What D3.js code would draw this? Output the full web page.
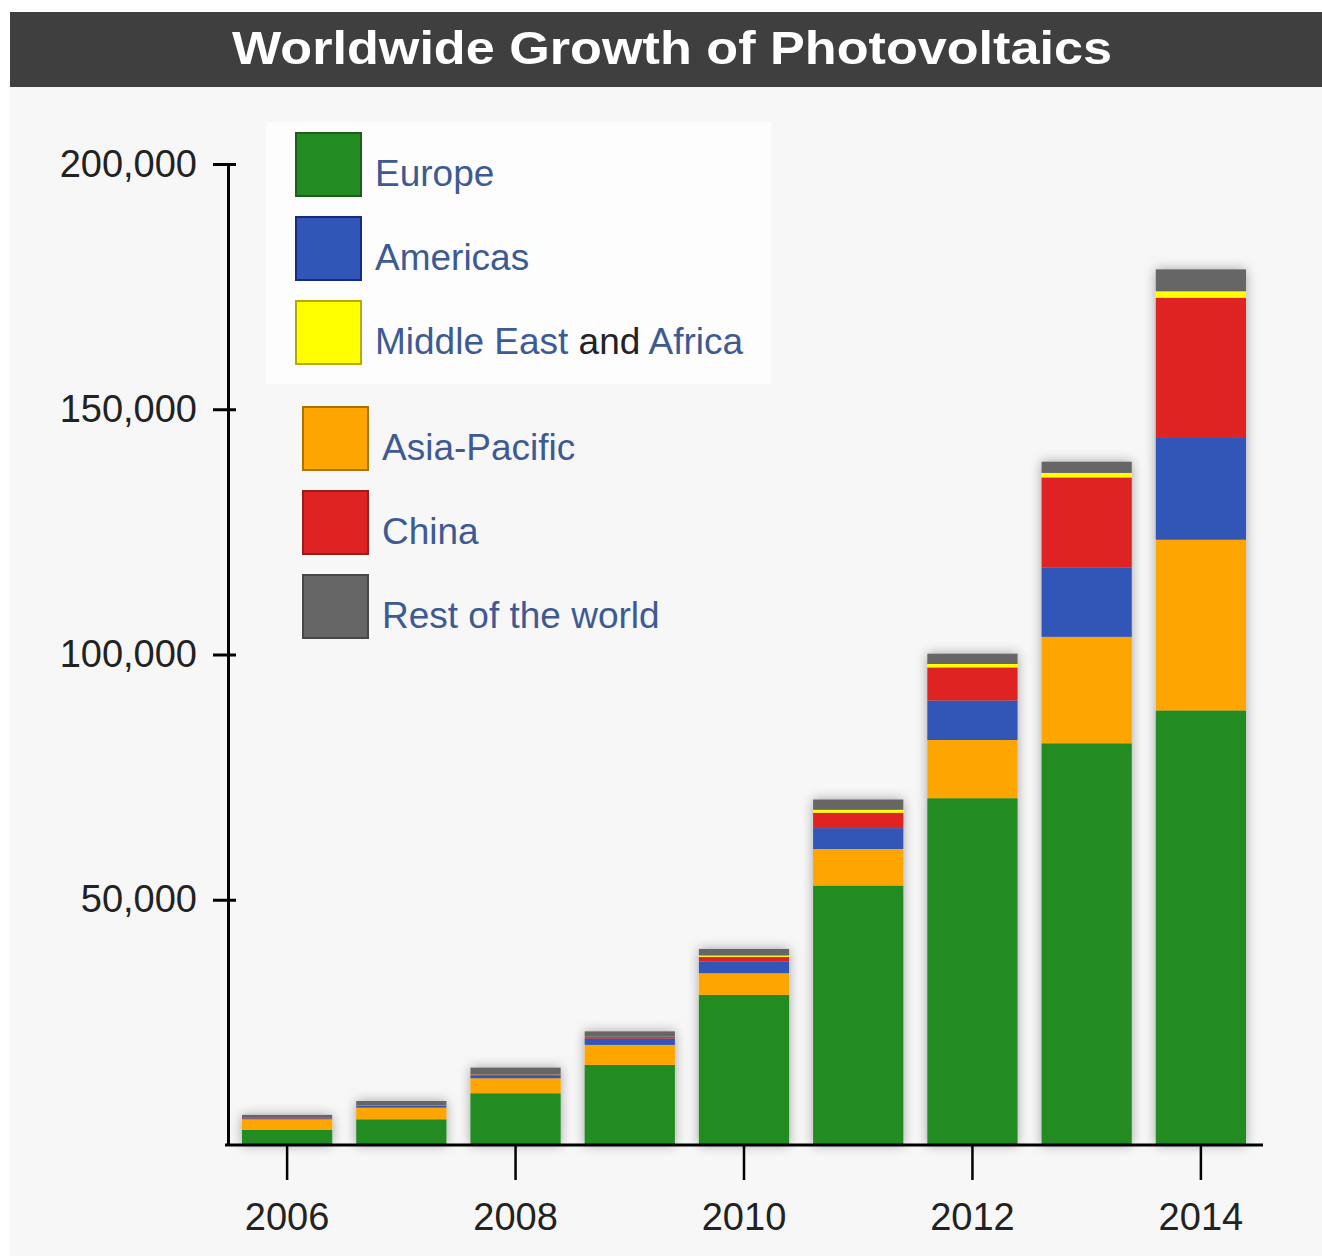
<!DOCTYPE html>
<html>
<head>
<meta charset="utf-8">
<script src="https://cdn.jsdelivr.net/npm/d3@7"></script>
<style>
  body { margin: 0; background: #fff; }
  svg { display: block; font-family: "Liberation Sans", Arial, sans-serif; }
</style>
</head>
<body>
<svg width="1322" height="1256"></svg>
<script>
// installed PV capacity (MW)
var years = [2006, 2007, 2008, 2009, 2010, 2011, 2012, 2013, 2014];
var europe      = [3060, 5240, 10550, 16330, 30600, 52900, 70700, 81900, 88600];
var asiaPacific = [2180, 2380, 3060, 4080, 4430, 7450, 11860, 21700, 34800];
var americas    = [200, 350, 600, 1300, 2390, 4250, 8060, 14100, 20750];
var china       = [80, 100, 140, 300, 920, 3140, 6750, 18400, 28600];
var middleEast  = [10, 20, 30, 60, 300, 600, 700, 920, 1300];
var restOfWorld = [620, 890, 1400, 1100, 1330, 2100, 2100, 2290, 4470];

var yTicks = [50000, 100000, 150000, 200000];
var xTicks = [2006, 2008, 2010, 2012, 2014];

// stacking order, bottom to top
var keys   = ["Europe", "Asia-Pacific", "Americas", "China", "Middle East and Africa", "Rest of the world"];
var series = [europe, asiaPacific, americas, china, middleEast, restOfWorld];
var colors = ["#228b22", "#ffa500", "#3057b8", "#df2222", "#ffff00", "#666666"];
var borders = ["#1d5e1d", "#a87400", "#1a2a80", "#9a1c1c", "#b8a800", "#474747"];

var rows = years.map(function (y, i) {
  var r = { year: y };
  keys.forEach(function (k, j) { r[k] = series[j][i]; });
  return r;
});

var svg = d3.select("svg");

// panel + title bar
svg.append("rect").attr("x", 10).attr("y", 87).attr("width", 1312).attr("height", 1169)
  .attr("fill", "#f7f7f7");
svg.append("rect").attr("x", 10).attr("y", 12).attr("width", 1312).attr("height", 75)
  .attr("fill", "#3f3f3f");
svg.append("text")
  .attr("x", 672).attr("y", 64)
  .attr("text-anchor", "middle")
  .attr("fill", "#fff")
  .attr("font-size", 47)
  .attr("font-weight", "bold")
  .attr("textLength", 880)
  .attr("lengthAdjust", "spacingAndGlyphs")
  .text("Worldwide Growth of Photovoltaics");

var x = d3.scaleBand()
  .domain(years)
  .range([230, 1258])
  .paddingInner(0.21)
  .paddingOuter(0.105);

var y = d3.scaleLinear()
  .domain([0, 200000])
  .range([1145, 164]);

// soft shadow round the bars
var defs = svg.append("defs");
defs.append("filter").attr("id", "shadow")
  .attr("x", "-20%").attr("y", "-20%").attr("width", "140%").attr("height", "140%")
  .append("feDropShadow")
    .attr("dx", 0).attr("dy", 0)
    .attr("stdDeviation", 6)
    .attr("flood-color", "#000")
    .attr("flood-opacity", 0.35);

var stacked = d3.stack().keys(keys)(rows);

var gBars = svg.append("g").attr("filter", "url(#shadow)");
gBars.selectAll(".layer")
  .data(stacked)
  .enter().append("g")
    .attr("class", "layer")
    .attr("fill", function (d, i) { return colors[i]; })
  .selectAll("rect")
  .data(function (d) { return d; })
  .enter().append("rect")
    .attr("x", function (d) { return x(d.data.year); })
    .attr("y", function (d) { return y(d[1]); })
    .attr("width", x.bandwidth())
    .attr("height", function (d) { return y(d[0]) - y(d[1]); });

// y axis
var gy = svg.append("g")
  .attr("transform", "translate(228,0)")
  .call(d3.axisLeft(y).tickValues(yTicks).tickFormat(d3.format(",")).tickSizeOuter(0).tickSizeInner(15).tickPadding(16));
gy.select(".domain").attr("stroke", "#000").attr("stroke-width", 3);
gy.selectAll(".tick line").attr("x1", 8).attr("x2", -15).attr("stroke", "#000").attr("stroke-width", 3);
gy.selectAll(".tick text").attr("font-size", 38).attr("fill", "#222")
  .attr("font-family", "'Liberation Sans', Arial, sans-serif");

// x axis
var gx = svg.append("g")
  .attr("transform", "translate(0,1145)")
  .call(d3.axisBottom(x).tickValues(xTicks).tickSizeOuter(0).tickSizeInner(35).tickPadding(23));
gx.select(".domain").attr("d", "M225,0H1263").attr("stroke", "#000").attr("stroke-width", 3);
gx.selectAll(".tick line").attr("stroke", "#000").attr("stroke-width", 2.5);
gx.selectAll(".tick text").attr("font-size", 38).attr("fill", "#222")
  .attr("font-family", "'Liberation Sans', Arial, sans-serif");

// legend (Europe, Americas, MEA, then Asia-Pacific, China, Rest of the world)
var legendOrder = [0, 2, 4, 1, 3, 5];
svg.append("rect").attr("x", 266).attr("y", 122).attr("width", 505).attr("height", 262)
  .attr("fill", "#fdfdfd");

var gLegend = svg.append("g");
var item = gLegend.selectAll(".item")
  .data(legendOrder)
  .enter().append("g")
    .attr("class", "item")
    .attr("transform", function (k, i) {
      return "translate(" + (i < 3 ? 296 : 303) + "," + (133 + i * 84 + (i < 3 ? 0 : 22)) + ")";
    });

item.append("rect")
  .attr("width", 65).attr("height", 63)
  .attr("fill", function (k) { return colors[k]; })
  .attr("stroke", function (k) { return borders[k]; })
  .attr("stroke-width", 2);

var label = item.append("text")
  .attr("x", 79).attr("y", 53)
  .attr("font-size", 37)
  .attr("fill", "#3e5a94");

label.each(function (k) {
  var t = d3.select(this);
  if (keys[k] === "Middle East and Africa") {
    t.append("tspan").text("Middle East");
    t.append("tspan").attr("fill", "#222").text(" and ");
    t.append("tspan").text("Africa");
  } else {
    t.text(keys[k]);
  }
});
</script>
</body>
</html>
